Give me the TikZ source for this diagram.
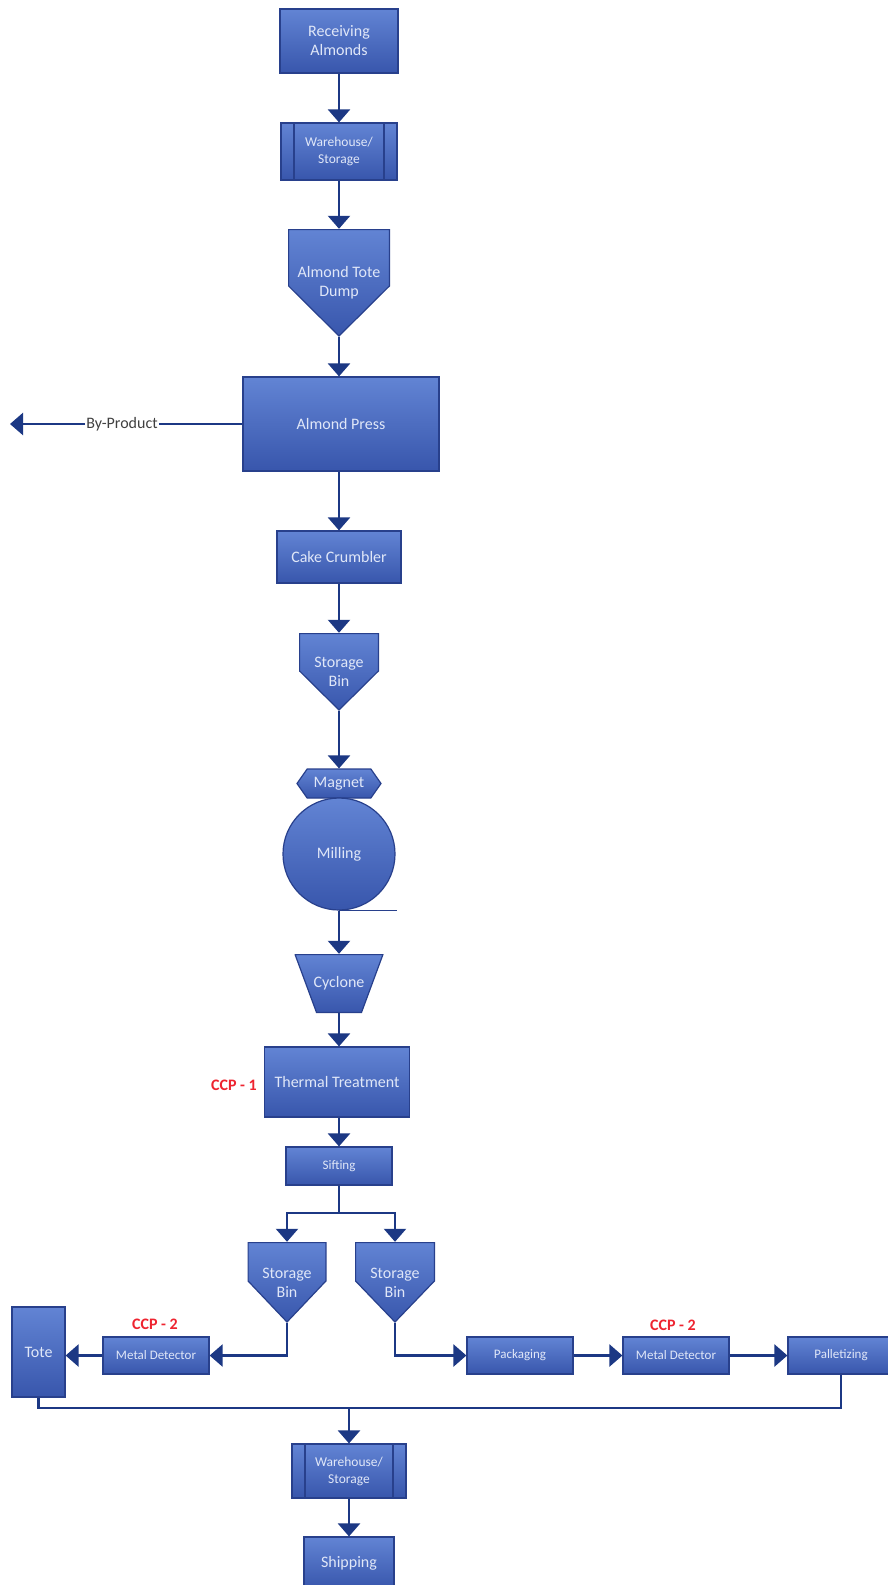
\documentclass[tikz,border=0pt]{standalone}
\usepackage{fontspec}
\setmainfont{Carlito}
\usetikzlibrary{shapes.symbols, arrows.meta}
\definecolor{celltop}{RGB}{98,132,212}
\definecolor{cellbot}{RGB}{56,86,172}
\definecolor{cellline}{RGB}{40,64,140}
\definecolor{celltext}{RGB}{224,231,248}
\definecolor{flow}{RGB}{28,56,132}
\definecolor{ccpred}{RGB}{238,36,48}
\tikzstyle{cell} = [rectangle, draw=cellline, line width=1.2pt, top color=celltop, bottom color=cellbot, text=celltext, align=center, inner sep=2pt, font=\fontsize{16}{19}\selectfont]
\tikzstyle{scell} = [cell, font=\fontsize{13}{16}\selectfont]
\tikzstyle{wcell} = [cell, font=\fontsize{13.5}{17}\selectfont, path picture={
    \draw[cellline, line width=1.2pt] ([xshift=13pt]path picture bounding box.north west) -- ([xshift=13pt]path picture bounding box.south west);
    \draw[cellline, line width=1.2pt] ([xshift=-13pt]path picture bounding box.north east) -- ([xshift=-13pt]path picture bounding box.south east);}]
% storage bin / tote dump: box with a pointed bottom, #1 = depth of the point
\tikzset{bcell/.style={rectangle, text=celltext, align=center, inner sep=2pt, font=\fontsize{16}{19}\selectfont, path picture={
    \shadedraw[top color=celltop, bottom color=cellbot, draw=cellline, line width=1.2pt]
      ([xshift=.6pt,yshift=-.6pt]path picture bounding box.north west)
      -- ([xshift=-.6pt,yshift=-.6pt]path picture bounding box.north east)
      -- ([xshift=-.6pt,yshift=#1]path picture bounding box.south east)
      -- ([yshift=1pt]path picture bounding box.south)
      -- ([xshift=.6pt,yshift=#1]path picture bounding box.south west) -- cycle;}}}
% cyclone: narrowing towards the bottom, #1 = inset of the bottom corners
\tikzset{ccell/.style={rectangle, text=celltext, align=center, inner sep=2pt, font=\fontsize{16}{19}\selectfont, path picture={
    \shadedraw[top color=celltop, bottom color=cellbot, draw=cellline, line width=1.2pt]
      ([xshift=.6pt,yshift=-.6pt]path picture bounding box.north west)
      -- ([xshift=-.6pt,yshift=-.6pt]path picture bounding box.north east)
      -- ([xshift=-#1,yshift=.6pt]path picture bounding box.south east)
      -- ([xshift=#1,yshift=.6pt]path picture bounding box.south west) -- cycle;}}}
\tikzstyle{hcell} = [cell, signal, signal to=west and east, signal pointer angle=110]
\tikzstyle{mcell} = [cell, circle, inner sep=0pt]
\tikzstyle{ccp} = [text=ccpred, font=\fontsize{16}{19}\selectfont\bfseries]
\tikzstyle{line} = [draw=flow, line width=2.4pt, -{Triangle[width=22pt,length=13pt]}]
\tikzstyle{feed} = [draw=flow, line width=2.4pt]

\begin{document}
\begin{tikzpicture}[x=1pt, y=-1pt]
    \fill[white] (0,0) rectangle (887,1585);
    \useasboundingbox (0,0) rectangle (887,1585);

    % main column
    \node[cell, minimum width=118pt, minimum height=64pt] (recv) at (339,41) {Receiving\\Almonds};
    \node[wcell, minimum width=116pt, minimum height=57pt] (store) at (339,151.5) {Warehouse/\\Storage};
    \node[bcell=51pt, minimum width=102pt, minimum height=108pt] (dump) at (339,283) {Almond Tote\\Dump};
    \node[cell, minimum width=196pt, minimum height=94pt] (press) at (341,424) {Almond Press};
    \node[cell, minimum width=124pt, minimum height=52pt] (crumb) at (339,557) {Cake Crumbler};
    \node[bcell=40pt, minimum width=80pt, minimum height=78pt] (bin) at (339,672) {Storage\\Bin};
    \node[hcell, minimum width=84pt, minimum height=29pt, inner sep=1pt] (magnet) at (339,783.5) {Magnet};
    \node[mcell, minimum size=112pt] (mill) at (339,854) {Milling};
    \node[ccell=22pt, minimum width=89pt, minimum height=59pt] (cyclone) at (339,983.5) {Cyclone};
    \node[cell, minimum width=145pt, minimum height=70pt] (heat) at (337,1082) {Thermal Treatment};
    \node[scell, minimum width=106pt, minimum height=38pt] (sift) at (339,1166) {Sifting};

    % split and bottom rows
    \node[bcell=42pt, minimum width=79pt, minimum height=81pt] (binL) at (287,1282.5) {Storage\\Bin};
    \node[bcell=42pt, minimum width=80pt, minimum height=81pt] (binR) at (395,1282.5) {Storage\\Bin};
    \node[cell, minimum width=53pt, minimum height=90pt] (tote) at (38.5,1352) {Tote};
    \node[scell, minimum width=106pt, minimum height=37pt] (detectL) at (156,1355.5) {Metal Detector};
    \node[scell, minimum width=106pt, minimum height=37pt] (pack) at (520,1355.5) {Packaging};
    \node[scell, minimum width=106pt, minimum height=37pt] (detectR) at (676,1355.5) {Metal Detector};
    \node[scell, minimum width=106pt, minimum height=37pt] (pallet) at (841,1355.5) {Palletizing};
    \node[wcell, minimum width=114pt, minimum height=54pt] (store2) at (349,1471) {Warehouse/\\Storage};
    \node[cell, minimum width=90pt, minimum height=52pt] (ship) at (349,1563) {Shipping};

    % labels
    \node[text=black!75, inner sep=1pt, font=\fontsize{16}{19}\selectfont] (byprod) at (122,424) {By-Product};
    \node[ccp] (ccp1) at (234,1085) {CCP - 1};
    \node[ccp] (ccp2L) at (155,1324) {CCP - 2};
    \node[ccp] (ccp2R) at (673,1325) {CCP - 2};

    \coordinate (byend) at (10,424);
    \coordinate (split) at (339,1213);
    \coordinate (merge) at (349,1408);

    \path[line] (recv) -- (store);
    \path[line] (store) -- (dump);
    \path[line] (dump.south) -- (press.north -| dump.south);
    \path[feed] (press.west) -- (byprod.east);
    \path[line] (byprod.west) -- (byend);
    \path[line] (press.south -| crumb) -- (crumb);
    \path[line] (crumb) -- (bin);
    \path[line] (bin.south) -- (magnet.north);
    \draw[cellline, line width=1.2pt] (mill.south) -- ++(58,0);
    \path[line] (mill.south) -- (cyclone.north);
    \path[line] (cyclone.south) -- (heat.north -| cyclone.south);
    \path[line] (heat.south -| sift) -- (sift);
    \path[feed] (sift.south) -- (split);
    \path[line] (split) -| (binL.north);
    \path[line] (split) -| (binR.north);
    \path[line] (binL.south) |- (detectL.east);
    \path[line] (detectL.west) -- (detectL.west -| tote.east);
    \path[line] (binR.south) |- (pack.west);
    \path[line] (pack) -- (detectR);
    \path[line] (detectR) -- (pallet);
    \path[feed] (tote.south) |- (merge) -| (pallet.south);
    \path[line] (merge) -- (store2);
    \path[line] (store2) -- (ship);
\end{tikzpicture}
\end{document}
